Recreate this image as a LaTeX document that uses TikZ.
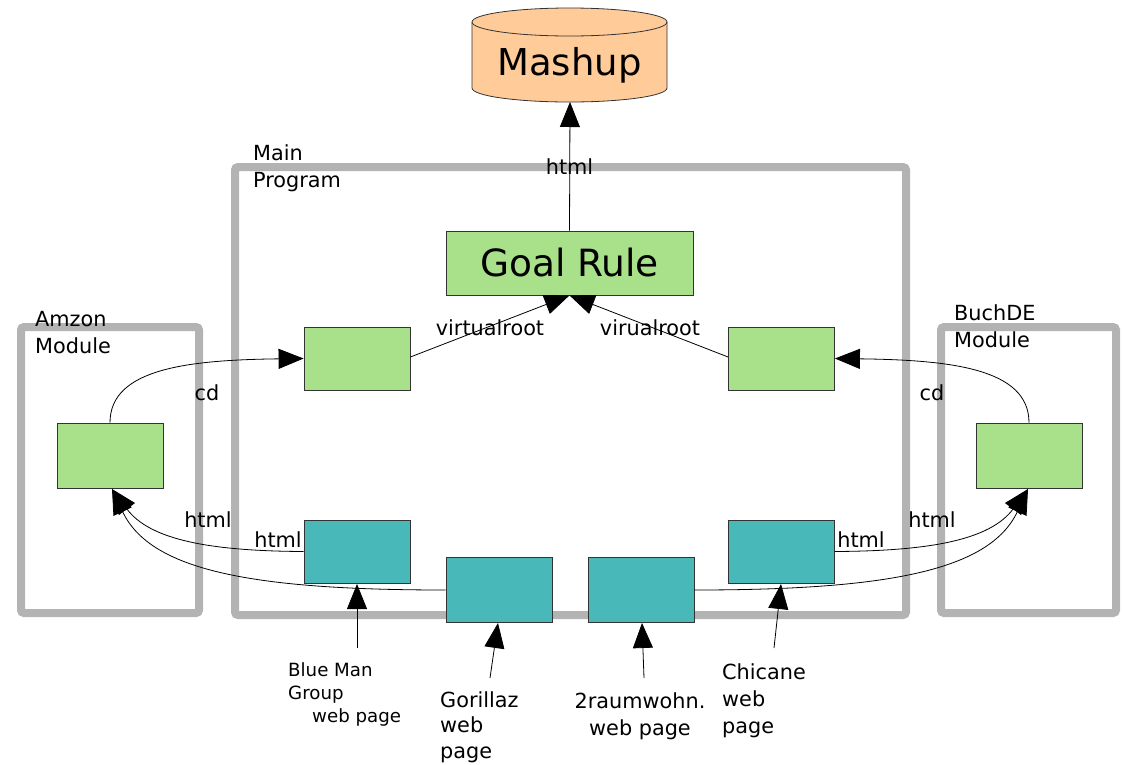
\documentclass[tikz,border=0pt]{standalone}
\usepackage{fontspec}
\setmainfont{DejaVu Sans}
\usetikzlibrary{arrows.meta,shapes.geometric}
\definecolor{gframe}{HTML}{B3B3B3}
\definecolor{green1}{HTML}{A9E18A}
\definecolor{teal1}{HTML}{48B8B8}
\definecolor{peach}{HTML}{FFCB99}
\definecolor{edge}{HTML}{333333}
\tikzset{
  frame/.style={draw=gframe,line width=8pt,rounded corners=3pt},
  gbox/.style={draw=edge,fill=green1,line width=0.8pt,minimum width=106pt,minimum height=63pt,inner sep=0pt},
  tbox/.style={draw=edge,fill=teal1,line width=0.8pt,minimum width=106pt,minimum height=63pt,inner sep=0pt},
  lbl/.style={font=\fontsize{20.8}{27}\selectfont,inner sep=0pt},
  slbl/.style={font=\fontsize{18.2}{23}\selectfont,inner sep=0pt},
  conn/.style={draw=black,line width=0.8pt,-{Triangle[length=25pt,width=20pt]}},
  plain/.style={draw=black,line width=0.8pt}
}
\begin{document}
\begin{tikzpicture}[x=1pt,y=-1pt]
\useasboundingbox (0,0) rectangle (1124,764);
% frames
\draw[frame] (235,167) rectangle (906,615);
\draw[frame] (21,327) rectangle (199,613);
\draw[frame] (941,327) rectangle (1116,613);
% frame labels
\node[lbl,align=left,anchor=north west] (lmain) at (253,144) {Main\\Program};
\node[lbl,align=left,anchor=north west] (lamz) at (35,311) {Amzon\\Module};
\node[lbl,align=left,anchor=north west] (lbuch) at (954,304) {BuchDE\\Module};
% Mashup cylinder
\fill[peach] (472,22) -- (472,88) arc[start angle=180,end angle=0,x radius=97.5,y radius=14] -- (667,22) -- cycle;
\draw[edge,line width=0.8pt] (472,22) -- (472,88) arc[start angle=180,end angle=0,x radius=97.5,y radius=14] -- (667,22);
\draw[edge,fill=peach,line width=0.8pt] (569.5,22) ellipse[x radius=97.5,y radius=14];
\node[font=\fontsize{37}{40}\selectfont,inner sep=0pt] (mashuptext) at (569.5,65) {Mashup};
\coordinate (mashup) at (570,102);
% boxes
\node[gbox,minimum width=247pt,minimum height=64pt,font=\fontsize{37.5}{40}\selectfont] (goal) at (569.5,263) {Goal Rule};
\node[gbox] (gl) at (357,358.5) {};
\node[gbox] (gr) at (781.5,358.5) {};
\node[gbox,minimum height=65pt] (ga) at (110,455.5) {};
\node[gbox,minimum height=65pt] (gb) at (1029,455.5) {};
\node[tbox] (bmg) at (357,551.5) {};
\node[tbox,minimum height=65pt] (gor) at (499,589.5) {};
\node[tbox,minimum height=65pt] (rau) at (641,589.5) {};
\node[tbox] (chi) at (781.5,551.5) {};
% goal -> mashup
\draw[conn] (goal.north) -- (mashup);
\node[lbl] (lhtml) at (569.5,167) {html};
% virtualroot
\draw[conn] (gl.east |- 0,357) -- (goal.south);
\draw[conn] (gr.west |- 0,357) -- (goal.south);
\node[lbl] (lvr1) at (490,328) {virtualroot};
\node[lbl] (lvr2) at (650,328) {virualroot};
% cd
\draw[conn] (ga.north) .. controls (110,368) and (190,360) .. (gl.west);
\draw[conn] (gb.north) .. controls (1029,368) and (949,360) .. (gr.east);
\node[lbl] (lcd1) at (207,393) {cd};
\node[lbl] (lcd2) at (932,393) {cd};
% html curves
\coordinate (ta) at (112,489);
\coordinate (tb) at (1028,489);
\draw[conn] (bmg.west) .. controls (210,551) and (150,540) .. (ta);
\draw[conn] (gor.west |- 0,590) .. controls (250,590) and (150,570) .. (ta);
\draw[conn] (chi.east) .. controls (930,551) and (990,540) .. (tb);
\draw[conn] (rau.east |- 0,590) .. controls (890,590) and (990,570) .. (tb);
\node[lbl] (lh1) at (208,520) {html};
\node[lbl] (lh2) at (278,540) {html};
\node[lbl] (lh3) at (861,540) {html};
\node[lbl] (lh4) at (932,520) {html};
% web page arrows
\coordinate (wb) at (357,648);
\coordinate (wg) at (490,678);
\coordinate (wr) at (644,678);
\coordinate (wc) at (774,648);
\draw[conn] (wb) -- (357,584);
\draw[conn] (wg) -- (498,623);
\draw[conn] (wr) -- (642,623);
\draw[conn] (wc) -- (781,584);
\node[slbl,align=left,anchor=north west] (tbmg) at (288,662) {Blue Man\\Group\\\hspace*{24pt}web page};
\node[align=left,anchor=north west,inner sep=0pt,font=\fontsize{20.8}{25.5}\selectfont] (tgor) at (440,691) {Gorillaz\\web\\page};
\node[lbl,align=center,anchor=north] (trau) at (640,692) {2raumwohn.\\web page};
\node[lbl,align=left,anchor=north west] (tchi) at (722,663) {Chicane\\web\\page};
\end{tikzpicture}
\end{document}
